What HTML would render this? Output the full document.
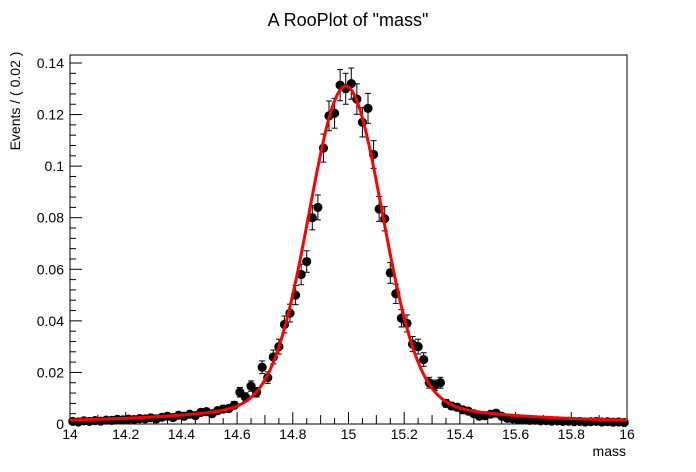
<!DOCTYPE html>
<html><head><meta charset="utf-8"><style>
body{margin:0;background:#fff;}
svg{display:block;font-family:"Liberation Sans",sans-serif;}
</style></head><body>
<svg id="chart" width="696" height="472">
<rect x="0" y="0" width="696" height="472" fill="#fff"/>
<text x="348" y="26" text-anchor="middle" font-size="18">A RooPlot of "mass"</text>
<text transform="translate(20,101) rotate(-90)" text-anchor="middle" font-size="14">Events / ( 0.02 )</text>
<text x="626" y="456" text-anchor="end" font-size="14">mass</text>
<g id="axes"></g>
<g id="pts"></g>
<g id="fit"></g>
</svg>
<script>
const binLo = 14.0;
const binWidth = 0.02;
const values = [
0.0010,0.0008,0.0012,0.0010,0.0013,0.0011,0.0015,0.0014,0.0018,0.0016,
0.0019,0.0017,0.0021,0.0020,0.0024,0.0020,0.0026,0.0030,0.0025,0.0034,
0.0030,0.0038,0.0033,0.0045,0.0048,0.0040,0.0052,0.0058,0.0060,0.0073,
0.0123,0.0104,0.0147,0.0123,0.0220,0.0180,0.0260,0.0300,0.0386,0.0430,
0.0500,0.0580,0.0630,0.0800,0.0840,0.1070,0.1195,0.1205,0.1314,0.1300,
0.1320,0.1260,0.1170,0.1224,0.1045,0.0834,0.0796,0.0586,0.0505,0.0410,
0.0390,0.0310,0.0300,0.0250,0.0160,0.0150,0.0160,0.0080,0.0070,0.0065,
0.0055,0.0050,0.0040,0.0030,0.0032,0.0038,0.0042,0.0030,0.0022,0.0020,
0.0018,0.0016,0.0014,0.0015,0.0012,0.0013,0.0011,0.0012,0.0010,0.0011,
0.0009,0.0010,0.0008,0.0009,0.0010,0.0008,0.0009,0.0007,0.0008,0.0006];
const fitMean = [14.99];
const fitCore = [0.12, 0.13];    // amplitude, sigma
const fitTail = [0.011, 0.4];    // amplitude, gamma
const xTicks = [14,14.2,14.4,14.6,14.8,15,15.2,15.4,15.6,15.8,16];
const xTickLabels = ["14","14.2","14.4","14.6","14.8","15","15.2","15.4","15.6","15.8","16"];
const yTicks = [0,0.02,0.04,0.06,0.08,0.1,0.12,0.14];
const yTickLabels = ["0","0.02","0.04","0.06","0.08","0.1","0.12","0.14"];

const L=70,R=627,T=55,B=424, xmin=14,xmax=16, ymin=0, ymax=0.1431;
const X=v=>L+(v-xmin)/(xmax-xmin)*(R-L);
const Y=v=>B-(v-ymin)/(ymax-ymin)*(B-T);
const NS="http://www.w3.org/2000/svg";
function mk(tag,attrs,parent){const e=document.createElementNS(NS,tag);for(const k in attrs)e.setAttribute(k,attrs[k]);parent.appendChild(e);return e;}
const axes=document.getElementById('axes');
const fr=mk('rect',{x:L,y:T,width:R-L,height:B-T,fill:'none',stroke:'#000','stroke-width':1},axes);


for(let k=0;k<=40;k++){const v=xmin+k*0.05;const len=k%4===0?12:(k%2===0?9:6);
 const t=mk('line',{x1:X(v),x2:X(v),y1:B,y2:B-len,stroke:'#000'},axes);
 
 }
xTicks.forEach((v,i)=>{const t=mk('text',{x:X(v),y:439,'text-anchor':'middle','font-size':14},axes);t.textContent=xTickLabels[i];
 
 });
for(let k=0;k*0.004<=ymax+1e-9;k++){const v=k*0.004;const len=k%5===0?12:6;
 const t=mk('line',{x1:L,x2:L+len,y1:Y(v),y2:Y(v),stroke:'#000'},axes);
 
 }
yTicks.forEach((v,i)=>{const t=mk('text',{x:64,y:Y(v)+5,'text-anchor':'end','font-size':14},axes);t.textContent=yTickLabels[i];
 
 });
function model(m){const d=m-fitMean[0];return fitCore[0]*Math.exp(-d*d/(2*fitCore[1]*fitCore[1]))+fitTail[0]*fitTail[1]*fitTail[1]/(d*d+fitTail[1]*fitTail[1]);}
let dstr='';for(let i=0;i<=400;i++){const m=xmin+i*(xmax-xmin)/400;dstr+=(i?'L':'M')+X(m).toFixed(2)+','+Y(model(m)).toFixed(2);}
const fp=mk('path',{d:dstr,fill:'none',stroke:'#ff0000','stroke-width':3},document.getElementById('fit'));


const pts=document.getElementById('pts');
values.forEach((v,i)=>{const m=binLo+binWidth*(i+0.5);const e=Math.sqrt(v*0.000277);
 const g=mk('g',{},pts);
 
 
 const x=X(m);
 mk('line',{x1:x,x2:x,y1:Y(v+e),y2:Y(Math.max(v-e,0)),stroke:'#000'},g);
 mk('line',{x1:x-3,x2:x+3,y1:Y(v+e),y2:Y(v+e),stroke:'#000'},g);
 mk('line',{x1:x-3,x2:x+3,y1:Y(Math.max(v-e,0)),y2:Y(Math.max(v-e,0)),stroke:'#000'},g);
 mk('circle',{cx:x,cy:Y(v),r:4.6,fill:'#000'},g);
});
</script>
</body></html>
